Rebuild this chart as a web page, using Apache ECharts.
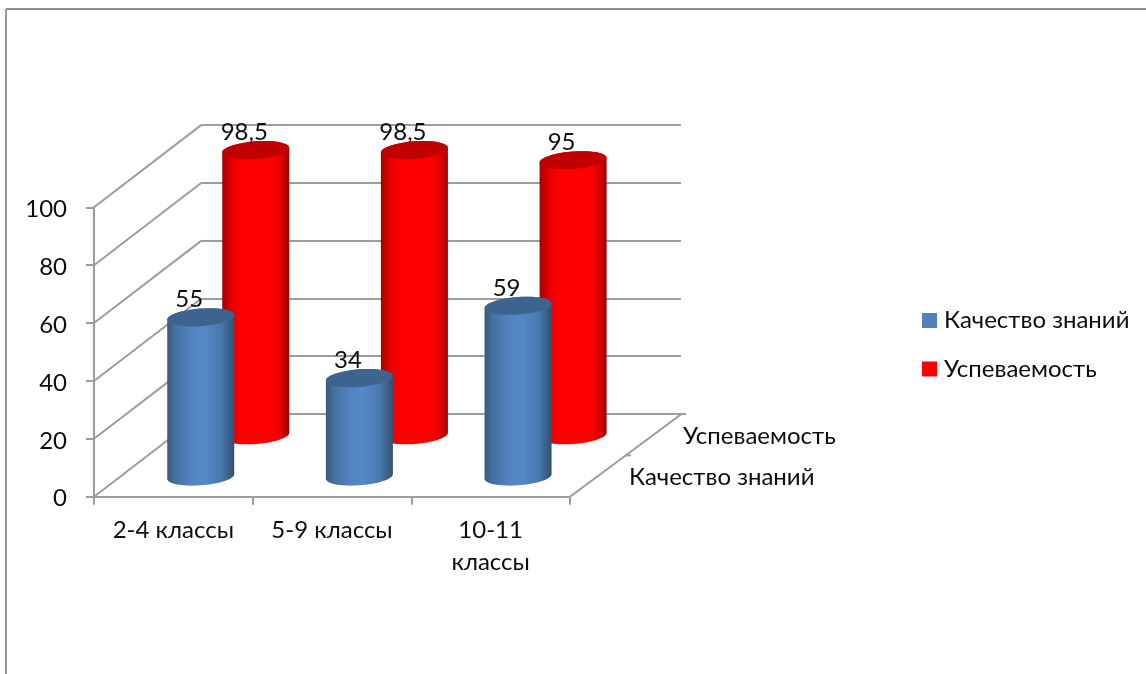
<!DOCTYPE html>
<html><head><meta charset="utf-8">
<style>html,body{margin:0;padding:0;background:#fff}#c{width:1146px;height:674px}</style>
<script src="https://cdn.jsdelivr.net/npm/echarts@6/dist/echarts.min.js"></script>
</head><body><div id="c"></div>
<script>
var categories = ['2-4 классы', '5-9 классы', '10-11\nклассы'];
var seriesNames = ['Качество знаний', 'Успеваемость'];
var quality = [55, 34, 59];
var progress = [98.5, 98.5, 95];
var yTicks = [0, 20, 40, 60, 80, 100];

var FS = 24;
var FONT = FS + 'px Lato, "Noto Sans", sans-serif';
var TEXT = '#0d0d0d';
var LINE = '#9c9c9c';
var LW = 2;
var DX = 110, DY = -82.7;      // total depth of the 3D box, px
var RX = 33.5, RY = 8.8, SHEAR = -0.07;

function ellipsePts(cx, cy, from, to) {
  var pts = [];
  for (var i = 0; i <= 36; i++) {
    var t = from + (to - from) * i / 36;
    var ex = RX * Math.cos(t);
    pts.push([cx + ex, cy + RY * Math.sin(t) + SHEAR * ex]);
  }
  return pts;
}

function cylinder(depthFrac, stops, capColor) {
  return function (params, api) {
    var i = api.value(0), v = api.value(1);
    var base = api.coord([i, 0]);
    var top = api.coord([i, v]);
    var ox = DX * depthFrac - 0.1, oy = DY * depthFrac + 0.5;
    var cx = base[0] + ox, by = base[1] + oy, ty = top[1] + oy;
    var body = ellipsePts(cx, by, 0, Math.PI).concat(ellipsePts(cx, ty, Math.PI, 2 * Math.PI));
    return {
      type: 'group',
      children: [
        { type: 'polygon', shape: { points: body },
          style: { fill: new echarts.graphic.LinearGradient(0, 0, 1, 0, stops) } },
        { type: 'polygon', shape: { points: ellipsePts(cx, ty, 0, 2 * Math.PI) },
          style: { fill: capColor } },
        { type: 'text', x: cx - 11.5, y: ty - 18,
          style: { text: String(v).replace('.', ','), font: FONT, fill: TEXT, align: 'center', verticalAlign: 'middle' } }
      ]
    };
  };
}

var blueStops = [
  { offset: 0, color: '#37597f' }, { offset: 0.12, color: '#44709f' },
  { offset: 0.35, color: '#5083bf' }, { offset: 0.55, color: '#5688c8' },
  { offset: 0.8, color: '#4a79b0' }, { offset: 1, color: '#32506f' }
];
var redStops = [
  { offset: 0, color: '#a80000' }, { offset: 0.15, color: '#e80000' },
  { offset: 0.3, color: '#ff0000' }, { offset: 0.75, color: '#ff0000' },
  { offset: 0.9, color: '#d80000' }, { offset: 1, color: '#980000' }
];

function boxFrame(params, api) {
  var sys = params.coordSys;
  var v = api.value(0);
  var y = api.coord([0, v])[1];
  var lineStyle = { stroke: LINE, lineWidth: LW };
  var kids = [{ type: 'line', shape: { x1: sys.x, y1: y, x2: sys.x + DX * 0.98, y2: y + DY }, style: lineStyle }];
  if (v === 0) {
    var rx = sys.x + sys.width;
    kids.push({ type: 'line', shape: { x1: rx, y1: y, x2: rx + DX + 1.5, y2: y + DY }, style: lineStyle });
    kids.push({ type: 'line', shape: { x1: rx + DX, y1: y + DY, x2: rx + DX + 6, y2: y + DY }, style: lineStyle });
    kids.push({ type: 'line', shape: { x1: rx + DX * 0.5, y1: y + DY * 0.5, x2: rx + DX * 0.5 + 6, y2: y + DY * 0.5 }, style: lineStyle });
  }
  return { type: 'group', children: kids };
}

function depthLabel(params, api) {
  var sys = params.coordSys;
  var idx = params.dataIndex;
  var y0 = sys.y + sys.height;
  return {
    type: 'text',
    x: sys.x + sys.width + (idx === 0 ? 59 : 113),
    y: y0 + (idx === 0 ? -19 : -60),
    style: { text: seriesNames[idx], font: FONT, fill: TEXT, align: 'left', verticalAlign: 'middle' }
  };
}

var chart = echarts.init(document.getElementById('c'), null, { renderer: 'canvas' });
chart.setOption({
  animation: false,
  backgroundColor: '#fff',
  textStyle: { fontFamily: 'Lato, "Noto Sans", sans-serif' },
  graphic: [
    { type: 'line', silent: true, shape: { x1: 6, y1: 9, x2: 1146, y2: 9 }, style: { stroke: '#8c8c8c', lineWidth: 1.8 } },
    { type: 'line', silent: true, shape: { x1: 6, y1: 9, x2: 6, y2: 674 }, style: { stroke: '#8c8c8c', lineWidth: 1.8 } }
  ],
  legend: {
    data: seriesNames.map(function (n) { return { name: n, icon: 'rect' }; }),
    orient: 'vertical', left: 917, top: 303.5, itemWidth: 15, itemHeight: 15, itemGap: 24.5,
    selectedMode: false,
    textStyle: { fontSize: FS, color: TEXT, fontFamily: 'Lato, "Noto Sans", sans-serif', padding: [0, 0, 0, 2] }
  },
  grid: [
    { left: 94, top: 207.3, width: 476, height: 289.4 },
    { left: 202, top: 124.7, width: 479, height: 289.4 }
  ],
  xAxis: [
    { type: 'category', gridIndex: 0, data: categories,
      axisLine: { lineStyle: { color: LINE, width: LW } },
      axisTick: { show: true, length: 8, alignWithLabel: false, lineStyle: { color: LINE, width: LW } },
      axisLabel: { fontSize: FS, color: TEXT, lineHeight: 32, margin: 18, interval: 0 } },
    { type: 'category', gridIndex: 1, data: categories, show: false }
  ],
  yAxis: [
    { type: 'value', gridIndex: 0, min: 0, max: 100, interval: 20,
      axisLine: { show: true, lineStyle: { color: LINE, width: LW } },
      axisTick: { show: true, length: 8, lineStyle: { color: LINE, width: LW } },
      axisLabel: { margin: 27, formatter: '{t|{value}}',
        rich: { t: { fontSize: FS, color: TEXT, fontFamily: 'Lato, "Noto Sans", sans-serif', padding: [4, 0, 0, 0] } } },
      splitLine: { show: false } },
    { type: 'value', gridIndex: 1, min: 0, max: 100, interval: 20,
      axisLine: { show: false }, axisTick: { show: false }, axisLabel: { show: false },
      splitLine: { show: true, lineStyle: { color: LINE, width: LW } } }
  ],
  series: [
    { type: 'custom', name: 'box', xAxisIndex: 0, yAxisIndex: 0, z: 1, silent: true,
      data: yTicks.map(function (t) { return [t]; }), encode: { y: 0 }, renderItem: boxFrame },
    { type: 'custom', name: 'depth', xAxisIndex: 0, yAxisIndex: 0, z: 1, silent: true,
      data: seriesNames.map(function (n, i) { return [i, 0]; }), renderItem: depthLabel },
    { type: 'custom', name: seriesNames[1], xAxisIndex: 0, yAxisIndex: 0, z: 2, silent: true,
      itemStyle: { color: '#ff0000' },
      data: progress.map(function (v, i) { return [i, v]; }),
      renderItem: cylinder(0.75, redStops, '#c00000') },
    { type: 'custom', name: seriesNames[0], xAxisIndex: 0, yAxisIndex: 0, z: 3, silent: true,
      itemStyle: { color: '#4f81bd' },
      data: quality.map(function (v, i) { return [i, v]; }),
      renderItem: cylinder(0.25, blueStops, '#3c648f') }
  ]
});
</script></body></html>
